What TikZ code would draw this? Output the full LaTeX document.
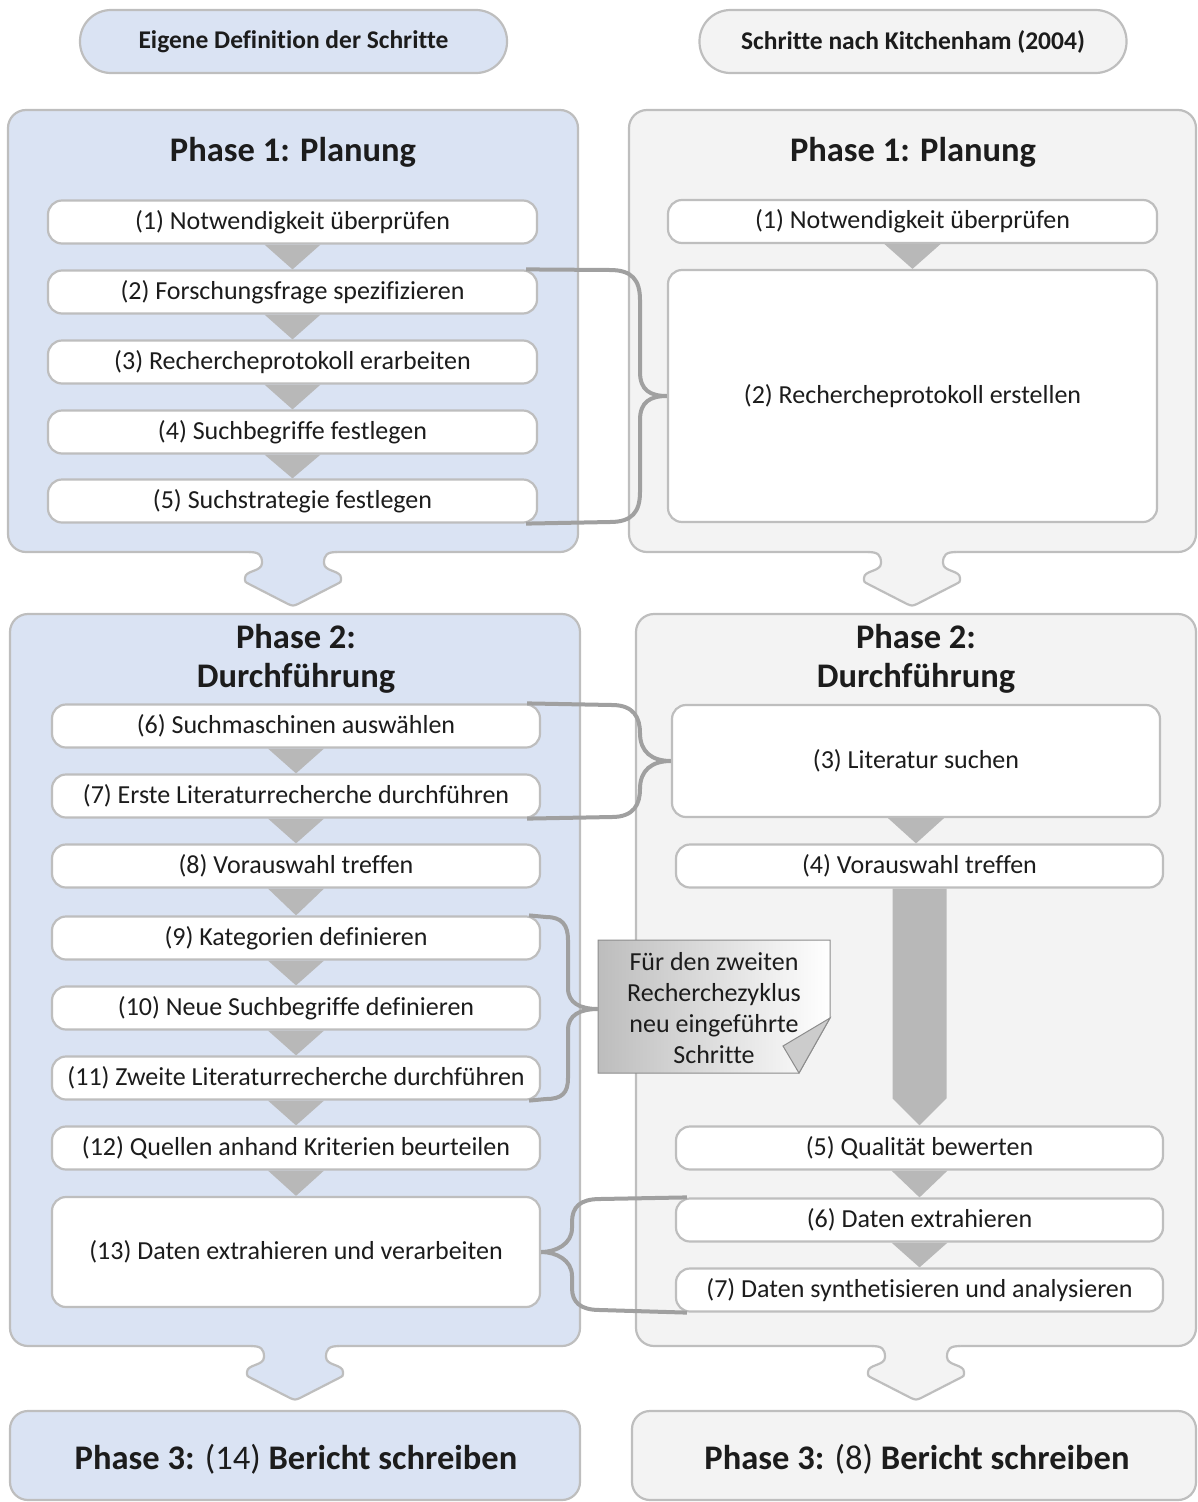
\documentclass[tikz,border=0pt]{standalone}
\usepackage{fontspec}
\setmainfont{Carlito}[Ligatures={NoCommon}]
\usetikzlibrary{calc}
\definecolor{bluefill}{HTML}{DAE3F3}
\definecolor{grayfill}{HTML}{F3F3F3}
\definecolor{bordergray}{HTML}{BEBEBE}
\definecolor{bracegray}{HTML}{A0A0A0}
\definecolor{trigray}{HTML}{B8B8B8}
\definecolor{txt}{HTML}{1C1C1C}
\pgfdeclarelayer{bg}
\pgfdeclarelayer{mid}
\pgfsetlayers{bg,mid,main}
\newcommand\phasearrow[3]{%
  \fill[#3] ({#1-44},{#2-3}) -- ({#1-44},{#2}) .. controls ({#1-34},{#2}) and ({#1-31},{#2+3}) .. ({#1-31},{#2+11})
   .. controls ({#1-31},{#2+20}) and ({#1-48},{#2+18}) .. ({#1-48},{#2+26})
   .. controls ({#1-48},{#2+30}) .. ({#1-44},{#2+32})
   -- ({#1-5},{#2+52}) .. controls ({#1},{#2+54}) .. ({#1+5},{#2+52})
   -- ({#1+44},{#2+32}) .. controls ({#1+48},{#2+30}) .. ({#1+48},{#2+26})
   .. controls ({#1+48},{#2+18}) and ({#1+31},{#2+20}) .. ({#1+31},{#2+11})
   .. controls ({#1+31},{#2+3}) and ({#1+34},{#2}) .. ({#1+44},{#2}) -- ({#1+44},{#2-3}) -- cycle;
  \draw[draw=bordergray, line width=2.2pt] ({#1-44},{#2}) .. controls ({#1-34},{#2}) and ({#1-31},{#2+3}) .. ({#1-31},{#2+11})
   .. controls ({#1-31},{#2+20}) and ({#1-48},{#2+18}) .. ({#1-48},{#2+26})
   .. controls ({#1-48},{#2+30}) .. ({#1-44},{#2+32})
   -- ({#1-5},{#2+52}) .. controls ({#1},{#2+54}) .. ({#1+5},{#2+52})
   -- ({#1+44},{#2+32}) .. controls ({#1+48},{#2+30}) .. ({#1+48},{#2+26})
   .. controls ({#1+48},{#2+18}) and ({#1+31},{#2+20}) .. ({#1+31},{#2+11})
   .. controls ({#1+31},{#2+3}) and ({#1+34},{#2}) .. ({#1+44},{#2});
}
\newcommand\steptri[2]{%
  \begin{pgfonlayer}{mid}
  \fill[trigray] ($(#1.south)+(-28,0)$) -- ($(#1.south)+(28,0)$) -- (#1.south |- #2.north) -- cycle;
  \end{pgfonlayer}
}
\begin{document}
\begin{tikzpicture}[x=1pt,y=-1pt,
  every node/.style={text=txt},
  pill/.style={draw=bordergray, line width=2.2pt, rounded corners=31pt, minimum width=427pt, minimum height=63pt, inner sep=0pt, font=\fontsize{25.5}{29}\selectfont\bfseries},
  phasebox/.style={draw=bordergray, line width=2.2pt, rounded corners=18pt, inner sep=0pt},
  stepbox/.style={draw=bordergray, line width=2.2pt, fill=white, rounded corners=14pt, minimum width=489pt, minimum height=43pt, inner sep=0pt, font=\fontsize{26}{30}\selectfont},
  ptitle/.style={font=\fontsize{34.5}{42}\selectfont\bfseries, inner sep=0pt},
  brace/.style={draw=bracegray, line width=4pt},
]
\useasboundingbox (0,0) rectangle (1197,1502);

% headers
\node[pill, fill=bluefill] (hl) at (293.5,41.5) {Eigene Definition der Schritte};
\node[pill, fill=grayfill] (hr) at (913,41.5) {Schritte nach Kitchenham (2004)};

% phase containers
\begin{pgfonlayer}{bg}
\node[phasebox, fill=bluefill, minimum width=570pt, minimum height=442pt] (p1l) at (293,331) {};
\node[phasebox, fill=grayfill, minimum width=567pt, minimum height=442pt] (p1r) at (912.5,331) {};
\node[phasebox, fill=bluefill, minimum width=570pt, minimum height=732pt] (p2l) at (295,980) {};
\node[phasebox, fill=grayfill, minimum width=560pt, minimum height=732pt] (p2r) at (916,980) {};
\node[phasebox, fill=bluefill, minimum width=570pt, minimum height=89pt] (p3l) at (295,1455.5) {};
\node[phasebox, fill=grayfill, minimum width=564pt, minimum height=89pt] (p3r) at (914,1455.5) {};
\end{pgfonlayer}

% titles
\node[ptitle] (t1l) at (293,152) {Phase 1: Planung};
\node[ptitle] (t1r) at (913,152) {Phase 1: Planung};
\node[ptitle] (t2l) at (296,637) {Phase 2:};
\node[ptitle] (t2lb) at (296,678) {Durchführung};
\node[ptitle] (t2r) at (916,637) {Phase 2:};
\node[ptitle] (t2rb) at (916,678) {Durchführung};
\node[ptitle] (t3l) at (296,1459) {Phase 3: {\mdseries(14)} Bericht schreiben};
\node[ptitle] (t3r) at (917,1459) {Phase 3: {\mdseries(8)} Bericht schreiben};

% left phase 1 steps
\node[stepbox] (a1) at (292.5,222) {(1) Notwendigkeit überprüfen};
\node[stepbox] (a2) at (292.5,292) {(2) Forschungsfrage spezifizieren};
\node[stepbox] (a3) at (292.5,362) {(3) Rechercheprotokoll erarbeiten};
\node[stepbox] (a4) at (292.5,432) {(4) Suchbegriffe festlegen};
\node[stepbox] (a5) at (292.5,501) {(5) Suchstrategie festlegen};
\steptri{a1}{a2}\steptri{a2}{a3}\steptri{a3}{a4}\steptri{a4}{a5}

% right phase 1 steps
\node[stepbox] (b1) at (912.5,221.5) {(1) Notwendigkeit überprüfen};
\node[stepbox, minimum height=252pt] (b2) at (912.5,396) {(2) Rechercheprotokoll erstellen};
\steptri{b1}{b2}

% left phase 2 steps
\node[stepbox, minimum width=488pt] (a6) at (296,726) {(6) Suchmaschinen auswählen};
\node[stepbox, minimum width=488pt] (a7) at (296,796) {(7) Erste Literaturrecherche durchführen};
\node[stepbox, minimum width=488pt] (a8) at (296,866) {(8) Vorauswahl treffen};
\node[stepbox, minimum width=488pt] (a9) at (296,938) {(9) Kategorien definieren};
\node[stepbox, minimum width=488pt] (a10) at (296,1008) {(10) Neue Suchbegriffe definieren};
\node[stepbox, minimum width=488pt] (a11) at (296,1078) {(11) Zweite Literaturrecherche durchführen};
\node[stepbox, minimum width=488pt] (a12) at (296,1148) {(12) Quellen anhand Kriterien beurteilen};
\node[stepbox, minimum width=488pt, minimum height=110pt] (a13) at (296,1252) {(13) Daten extrahieren und verarbeiten};
\steptri{a6}{a7}\steptri{a7}{a8}\steptri{a8}{a9}\steptri{a9}{a10}\steptri{a10}{a11}\steptri{a11}{a12}\steptri{a12}{a13}

% right phase 2 steps
\node[stepbox, minimum width=488pt, minimum height=112pt] (b3) at (916,761) {(3) Literatur suchen};
\node[stepbox, minimum width=487pt] (b4) at (919.5,866) {(4) Vorauswahl treffen};
\node[stepbox, minimum width=487pt] (b5) at (919.5,1148) {(5) Qualität bewerten};
\node[stepbox, minimum width=487pt] (b6) at (919.5,1220) {(6) Daten extrahieren};
\node[stepbox, minimum width=487pt] (b7) at (919.5,1290) {(7) Daten synthetisieren und analysieren};
\steptri{b3}{b4}\steptri{b5}{b6}\steptri{b6}{b7}
\begin{pgfonlayer}{mid}
\fill[trigray] ($(b4.south)+(-27,0)$) -- ($(b4.south)+(27,0)$) -- ($(b4.south |- b5.north)+(27,-27)$) -- (b4.south |- b5.north) -- ($(b4.south |- b5.north)+(-27,-27)$) -- cycle;
\end{pgfonlayer}

% phase arrows
\phasearrow{293}{552}{bluefill}
\phasearrow{912}{552}{grayfill}
\phasearrow{295}{1346}{bluefill}
\phasearrow{916}{1346}{grayfill}

% note
\coordinate (n1) at (598,940);
\coordinate (n2) at (830,940);
\coordinate (n3) at (830,1018);
\coordinate (n4) at (799,1073);
\coordinate (n5) at (598,1073);
\coordinate (nf) at (783,1046);
\shade[left color=black!26, right color=white] (n1) -- (n2) -- (n3) -- (n4) -- (n5) -- cycle;
\draw[draw=black!45, line width=1pt] (n1) -- (n2) -- (n3) -- (n4) -- (n5) -- cycle;
\filldraw[fill=black!20, draw=black!45, line width=1pt] (n3) -- (nf) -- (n4) -- cycle;
\node[font=\fontsize{26}{31}\selectfont, align=center, inner sep=0pt] (note) at (714,1008) {Für den zweiten\\Recherchezyklus\\neu eingeführte\\Schritte};

% braces
\coordinate (br1) at ($(a2.north east)+(-12,0)$);
\coordinate (br1b) at ($(a5.south east)+(-12,0)$);
\draw[brace, line cap=butt] (br1) -- (610,270) .. controls (632,270) and (640,280) .. (640,300) -- (640,372)
  .. controls (640,390) and (650,396) .. (b2.west)
  .. controls (650,396) and (640,402) .. (640,420) -- (640,492)
  .. controls (640,512) and (632,522) .. (610,522) -- (br1b);

\coordinate (br2) at ($(a6.north east)+(-14,0)$);
\coordinate (br2b) at ($(a7.south east)+(-14,0)$);
\draw[brace] (br2) -- (612,705) .. controls (634,705) and (640,718) .. (640,733)
  .. controls (640,752) and (652,761) .. (b3.west)
  .. controls (652,761) and (640,770) .. (640,789)
  .. controls (640,804) and (634,817) .. (612,817) -- (br2b);

\coordinate (br3) at ($(a9.north east)+(-12,0)$);
\coordinate (br3b) at ($(a11.south east)+(-12,0)$);
\draw[brace] (br3) -- (546,917) .. controls (562,917) and (568,925) .. (568,940) -- (568,988)
  .. controls (568,1003) and (580,1009) .. (n1 |- 0,1009)
  .. controls (580,1009) and (568,1015) .. (568,1030) -- (568,1078)
  .. controls (568,1093) and (562,1099) .. (546,1099) -- (br3b);

\coordinate (br4a) at ($(b6.north west)+(12,0)$);
\coordinate (br4b) at ($(b7.south west)+(12,0)$);
\draw[brace] (a13.east) .. controls (556,1252) and (572,1244) .. (572,1228) -- (572,1222)
  .. controls (572,1207) and (580,1199) .. (600,1199) -- (br4a);
\draw[brace] (a13.east) .. controls (556,1252) and (572,1260) .. (572,1276) -- (572,1288)
  .. controls (572,1302) and (580,1310) .. (600,1310) -- (br4b);
\end{tikzpicture}
\end{document}
